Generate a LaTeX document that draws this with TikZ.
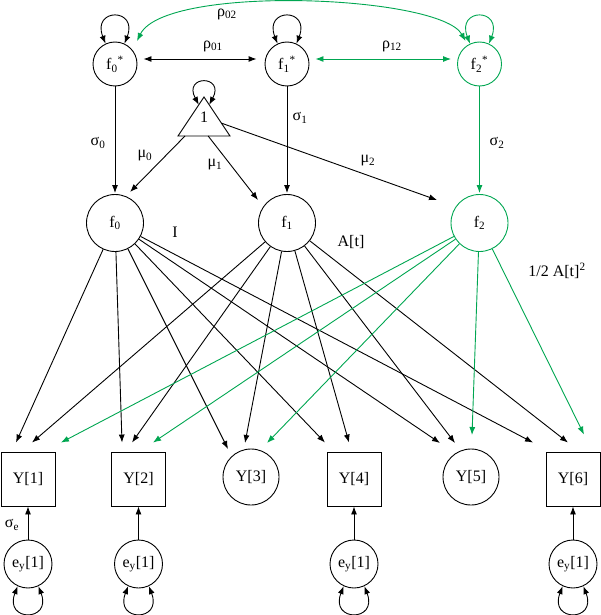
\documentclass[tikz,border=0pt]{standalone}
\usepackage{fontspec}
\setmainfont{Liberation Serif}
\usetikzlibrary{arrows.meta,calc}
\definecolor{grn}{RGB}{0,166,81}
\begin{document}
\begin{tikzpicture}[x=1pt,y=-1pt,
  font=\fontsize{16}{18}\selectfont,
  lat/.style={draw,circle,inner sep=0pt,line width=0.9pt},
  obs/.style={draw,rectangle,minimum size=54pt,inner sep=0pt,line width=0.9pt},
  arr/.style={-{Latex[length=8pt,width=6pt]},line width=0.9pt},
  dbl/.style={{Latex[length=8pt,width=6pt]}-{Latex[length=8pt,width=6pt]},line width=0.9pt},
  lab/.style={inner sep=0pt}]
\useasboundingbox (0,0) rectangle (601,615);
% latent top
\node[lat,minimum size=44pt] (f0s) at (115,64) {f\textsubscript{0}\textsuperscript{*}};
\node[lat,minimum size=44pt] (f1s) at (287,64) {f\textsubscript{1}\textsuperscript{*}};
\node[lat,minimum size=44pt,draw=grn] (f2s) at (479.5,64) {f\textsubscript{2}\textsuperscript{*}};
% triangle
\coordinate (tA) at (204,97);
\coordinate (tL) at (178,136);
\coordinate (tR) at (230,136);
\draw[line width=0.9pt] (tA) -- (tL) -- (tR) -- cycle;
\node[lab] (one) at (204,117) {1};
% latent middle
\node[lat,minimum size=57pt] (f0) at (115,223) {f\textsubscript{0}};
\node[lat,minimum size=57pt] (f1) at (287,223) {f\textsubscript{1}};
\node[lat,minimum size=57pt,draw=grn] (f2) at (479.5,223) {f\textsubscript{2}};
% observed
\node[obs] (Y1) at (28,479) {Y[1]};
\node[obs] (Y2) at (138.5,479) {Y[2]};
\node[lat,minimum size=56pt] (Y3) at (251,477) {Y[3]};
\node[obs] (Y4) at (354,479) {Y[4]};
\node[lat,minimum size=56pt] (Y5) at (471,477) {Y[5]};
\node[obs] (Y6) at (573,479) {Y[6]};
% errors
\node[lat,minimum size=48pt] (e1) at (28,564) {e\textsubscript{y}[1]};
\node[lat,minimum size=48pt] (e2) at (138.5,564) {e\textsubscript{y}[1]};
\node[lat,minimum size=48pt] (e4) at (354,564) {e\textsubscript{y}[1]};
\node[lat,minimum size=48pt] (e6) at (573,564) {e\textsubscript{y}[1]};

% self loops
\draw[dbl] (f0s.115) .. controls +(-14,-36) and +(14,-36) .. (f0s.65);
\draw[dbl] (f1s.115) .. controls +(-14,-36) and +(14,-36) .. (f1s.65);
\draw[dbl,grn] (f2s.115) .. controls +(-14,-36) and +(14,-36) .. (f2s.65);
\coordinate (tl1) at ($(tA)!0.2!(tL)$);
\coordinate (tl2) at ($(tA)!0.2!(tR)$);
\draw[dbl] (tl1) .. controls +(-16,-30) and +(16,-30) .. (tl2);
\foreach \e in {e1,e2,e4,e6}{
  \draw[dbl] (\e.245) .. controls +(-14,36) and +(14,36) .. (\e.295);
}

% covariances
\coordinate (r01a) at ($(f0s.east)+(6,-5)$);
\coordinate (r01b) at ($(f1s.west)+(-8,-5)$);
\draw[dbl] (r01a) -- (r01b);
\coordinate (r12a) at ($(f1s.east)+(6,-5)$);
\coordinate (r12b) at ($(f2s.west)+(-6,-5)$);
\draw[dbl,grn] (r12a) -- (r12b);
\coordinate (r02a) at ($(f0s)+(22,-23)$);
\coordinate (r02b) at ($(f2s)+(-14,-23)$);
\draw[dbl,grn] (r02a) .. controls (165,-16) and (440,-5) .. (r02b);
\node[lab] (lr02) at (227,14) {ρ\textsubscript{02}};
\node[lab] (lr01) at (213,46) {ρ\textsubscript{01}};
\node[lab] (lr12) at (392,46) {ρ\textsubscript{12}};

% sigma paths
\draw[arr,shorten >=1pt] (f0s) -- (f0);
\draw[arr,shorten >=1pt] (f1s) -- (f1);
\draw[arr,grn,shorten >=1pt] (f2s) -- (f2);
\node[lab] (ls0) at (98,143) {σ\textsubscript{0}};
\node[lab] (ls1) at (300,118) {σ\textsubscript{1}};
\node[lab] (ls2) at (497,143) {σ\textsubscript{2}};

% means
\coordinate (m0s) at ($(tL)!0.135!(tR)$);
\coordinate (m1s) at ($(tL)!0.58!(tR)$);
\coordinate (m2s) at ($(tA)!0.67!(tR)$);
\coordinate (m0t) at ($(f0)+(15,-31)$);
\coordinate (m1t) at ($(f1)+(-29,-23)$);
\coordinate (m2t) at ($(f2)+(-42.5,-23)$);
\draw[arr] (m0s) -- (m0t);
\draw[arr] (m1s) -- (m1t);
\draw[arr] (m2s) -- (m2t);
\node[lab] (lm0) at (145,156) {μ\textsubscript{0}};
\node[lab] (lm1) at (215,165) {μ\textsubscript{1}};
\node[lab] (lm2) at (368,161) {μ\textsubscript{2}};

% loading targets
\coordinate (a1) at ($(Y1.north)+(-12,-9)$);
\coordinate (b1) at ($(Y1.north)+(4,-9)$);
\coordinate (c1) at ($(Y1.north)+(33,-9)$);
\coordinate (a2) at ($(Y2.north)+(-16.5,-9)$);
\coordinate (b2) at ($(Y2.north)+(-6.5,-9)$);
\coordinate (c2) at ($(Y2.north)+(14.5,-9)$);
\coordinate (a3) at ($(Y3)+(-23,-28)$);
\coordinate (b3) at ($(Y3)+(-6,-34)$);
\coordinate (c3) at ($(Y3)+(16,-34)$);
\coordinate (a4) at ($(Y4.north)+(-29,-9)$);
\coordinate (b4) at ($(Y4.north)+(-5,-9)$);
\coordinate (a5) at ($(Y5)+(-31,-34)$);
\coordinate (b5) at ($(Y5)+(-16,-34)$);
\coordinate (c5) at ($(Y5)+(1,-42)$);
\coordinate (a6) at ($(Y6.north)+(-40,-9)$);
\coordinate (b6) at ($(Y6.north)+(-5,-9)$);
\coordinate (c6) at ($(Y6.north)+(11,-17)$);
\foreach \t in {a1,a2,a3,a4,a5,a6}{\draw[arr] (f0) -- (\t);}
\foreach \t in {b1,b2,b3,b4,b5,b6}{\draw[arr] (f1) -- (\t);}
\foreach \t in {c1,c2,c3,c5,c6}{\draw[arr,grn] (f2) -- (\t);}
\node[lab] (lI) at (175,232) {I};
\node[lab] (lA) at (351,242) {A[t]};
\node[lab] (lA2) at (557,271) {1/2 A[t]\textsuperscript{2}};

% residuals
\draw[arr] (e1) -- (Y1);
\draw[arr] (e2) -- (Y2);
\draw[arr] (e4) -- (Y4);
\draw[arr] (e6) -- (Y6);
\node[lab] (lse) at (12,525) {σ\textsubscript{e}};
\end{tikzpicture}
\end{document}
